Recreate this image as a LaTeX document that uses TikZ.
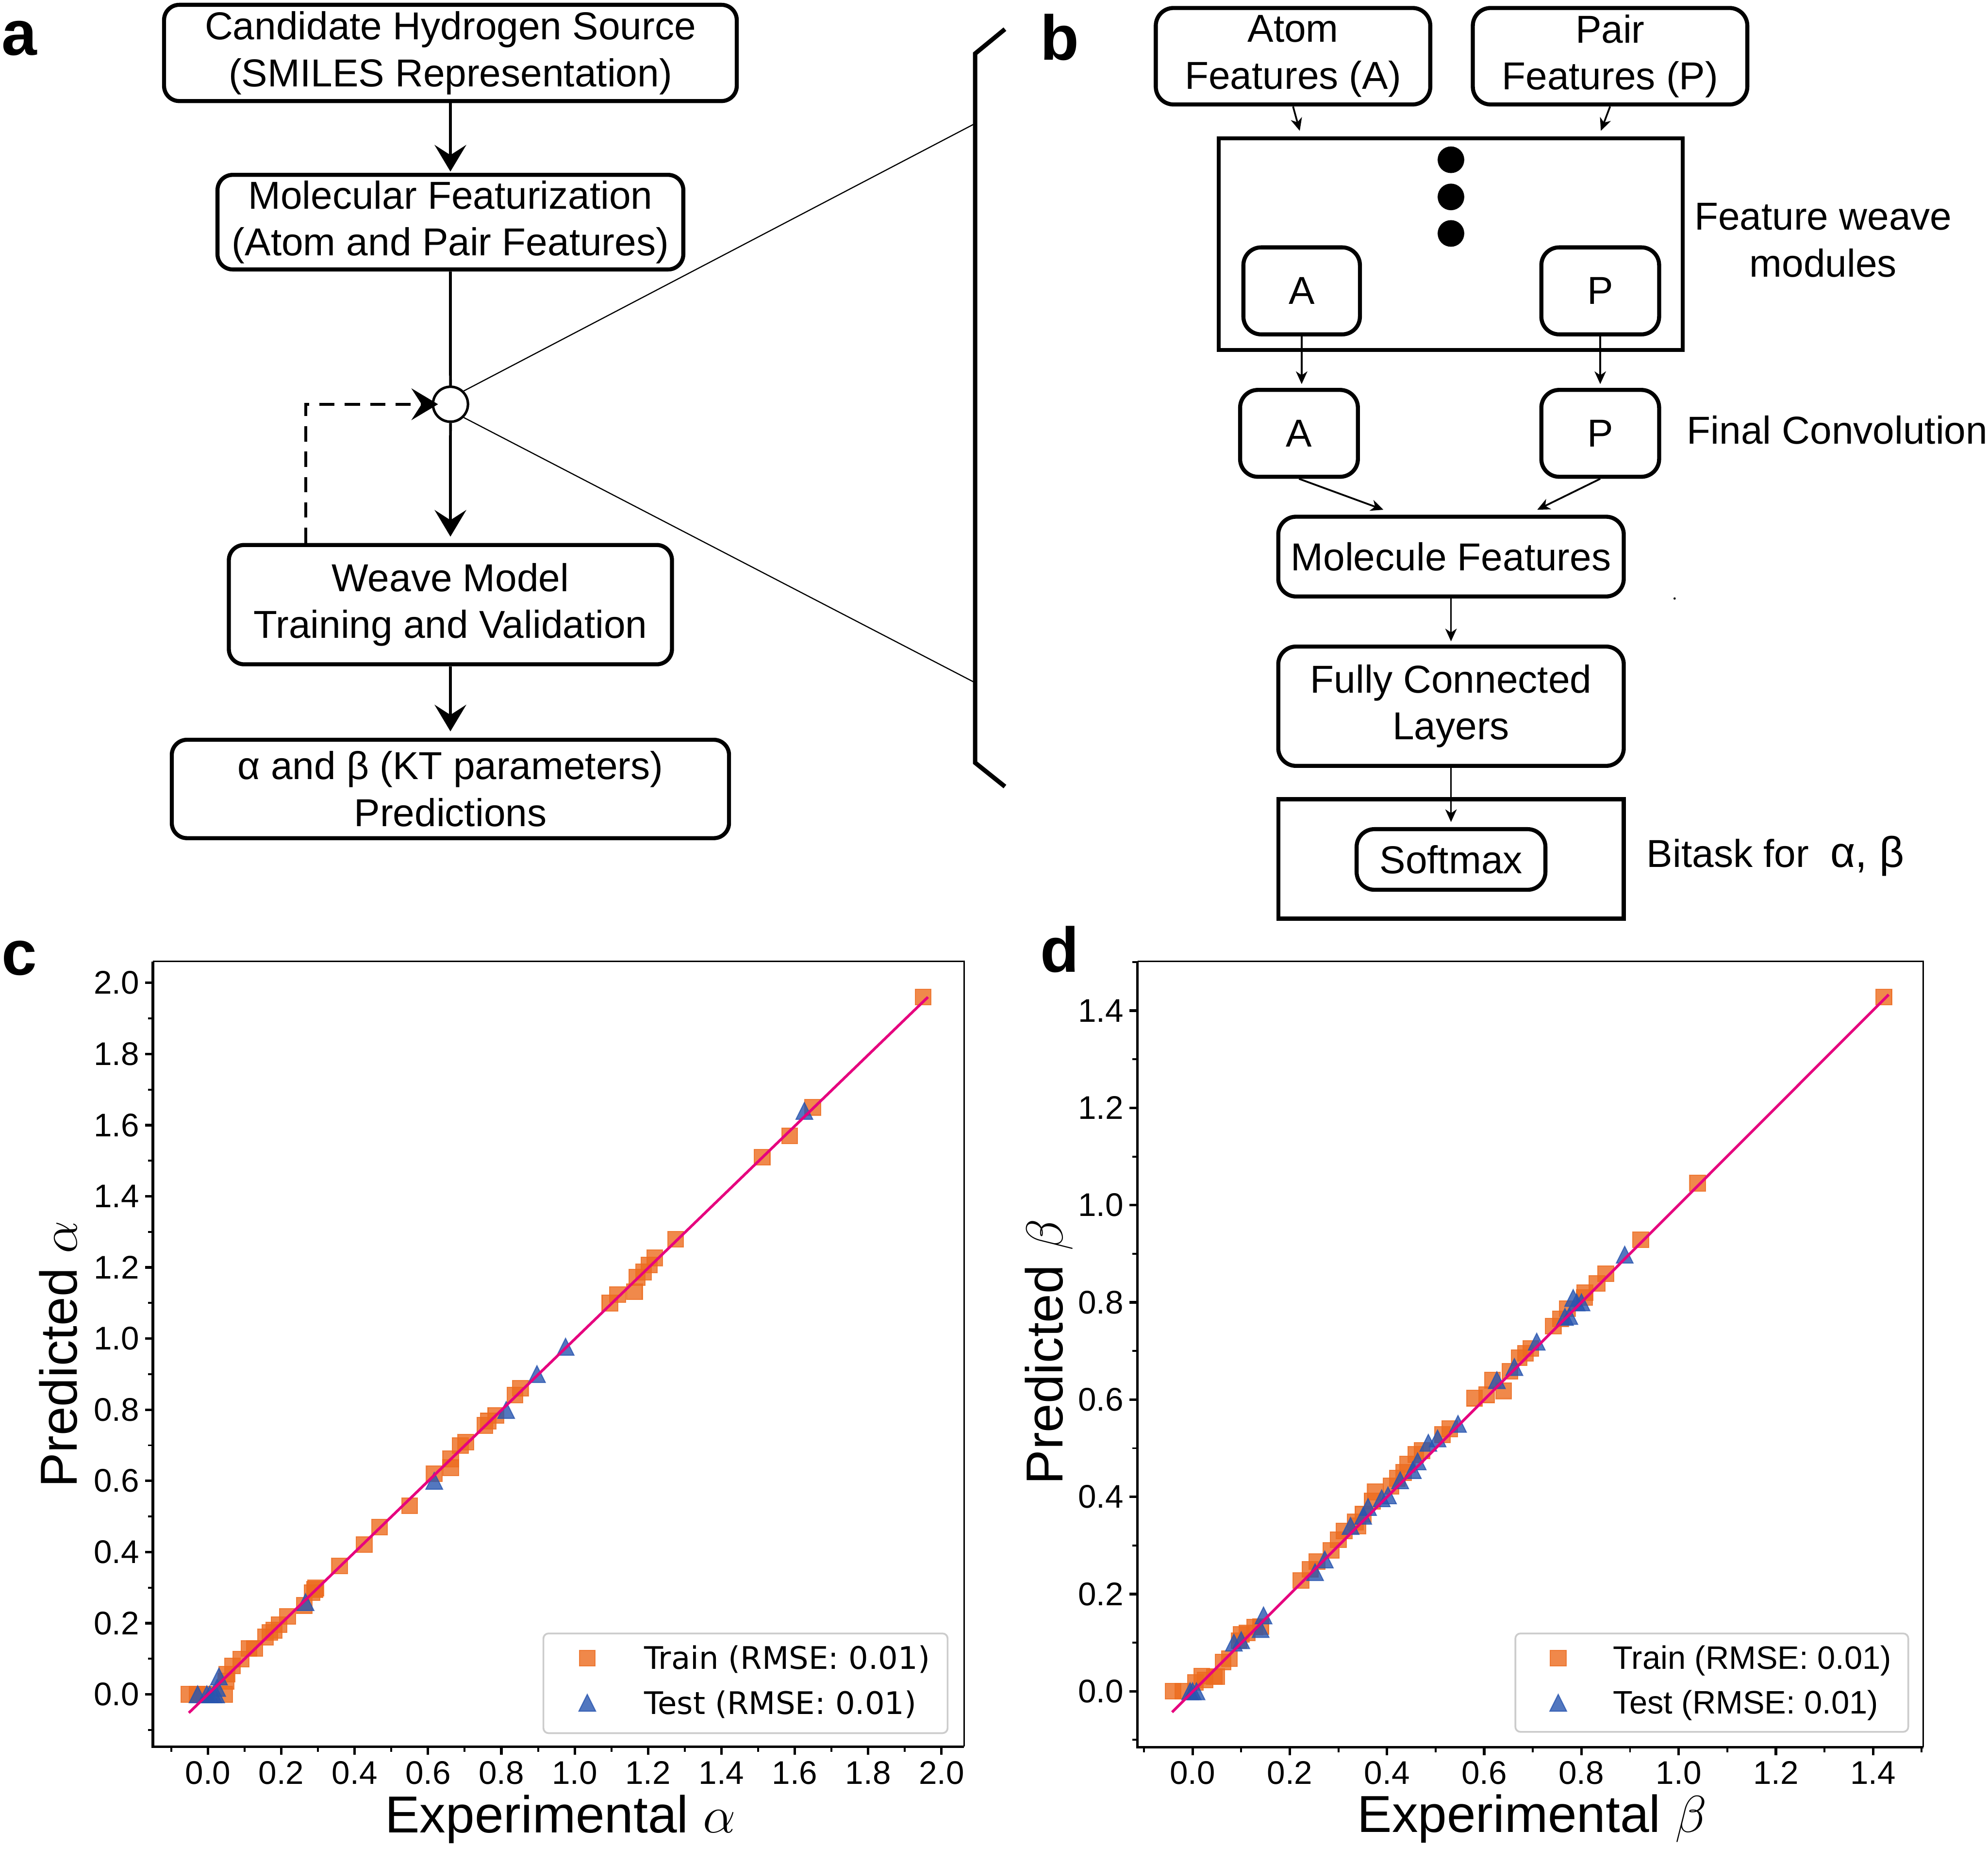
\RequirePackage{fix-cm}
\documentclass[tikz,border=0pt]{standalone}
\usepackage{fontspec}
\setmainfont{Liberation Sans}
\newfontfamily\djv{DejaVu Sans}
\usetikzlibrary{arrows.meta,calc}
\definecolor{orng}{RGB}{236,107,30}
\definecolor{blu}{RGB}{40,85,175}
\definecolor{regl}{RGB}{230,0,126}
\tikzset{
  txt/.style={inner sep=0pt, font=\fontsize{30.7}{37}\selectfont, align=center},
  rbox/.style={txt, draw, line width=3.2pt, rounded corners=12pt},
  sbox/.style={draw, line width=3.2pt, inner sep=0pt},
  flowarrow/.style={line width=2.2pt, -{Stealth[length=21pt,width=25pt,inset=8pt]}},
  flowline/.style={line width=2.2pt},
  dasharrow/.style={flowarrow, dash pattern=on 12pt off 8pt},
  zoomline/.style={line width=0.9pt},
  bracketline/.style={line width=3.5pt, line join=miter},
  thinarrow/.style={line width=1.4pt, -{Stealth[length=10pt,width=9pt,inset=3pt]}},
  panel/.style={inner sep=0pt, anchor=base west, font=\fontsize{50}{60}\selectfont\bfseries},
  sqm/.style={fill=orng, draw=orng, opacity=0.8, line width=0.8pt},
  trm/.style={fill=blu, draw=blu, opacity=0.8, line width=0.8pt},
  regline/.style={draw=regl, line width=2.1pt},
  spinethick/.style={line width=2pt},
  spinethin/.style={line width=1.2pt},
  majtick/.style={line width=2pt},
  mintick/.style={line width=1.5pt},
  ticklab/.style={inner sep=0pt, font=\fontsize{25.8}{30}\selectfont},
  axlab/.style={inner sep=0pt, font=\fontsize{41}{49}\selectfont},
  legbox/.style={draw=black!20, fill=white, fill opacity=0.8, line width=1.4pt, rounded corners=4pt},
  legtxtc/.style={inner sep=0pt, anchor=base west, font=\djv\fontsize{24.5}{29}\selectfont},
  legtxtd/.style={inner sep=0pt, anchor=base west, font=\fontsize{25.6}{30}\selectfont},
}
\begin{document}
\begin{tikzpicture}[x=1pt,y=-1pt]
\useasboundingbox (0,0) rectangle (1568,1469);

% ---------------- panel labels
\node[panel] (la) at (1,43.3) {a};
\node[panel] (lb) at (820.5,47.2) {b};
\node[panel] (lc) at (1,769) {c};
\node[panel] (ld) at (820.5,766.5) {d};

% ---------------- panel a
\node[rbox, minimum width=451.7pt, minimum height=75.9pt] (src) at (355.25,41.75) {Candidate Hydrogen Source\\(SMILES Representation)};
\node[rbox, minimum width=367.4pt, minimum height=74.6pt] (feat) at (355.25,175.2) {Molecular Featurization\\(Atom and Pair Features)};
\node[draw, circle, line width=2pt, fill=white, minimum size=27.6pt, inner sep=0pt] (hub) at (355.3,318.8) {};
\node[rbox, minimum width=349.5pt, minimum height=94.1pt] (wm) at (355.25,476.85) {Weave Model\\Training and Validation};
\node[rbox, minimum width=439.5pt, minimum height=77.6pt] (pred) at (355.25,622.2) {α and β (KT parameters)\\Predictions};

\draw[flowarrow, shorten >=1pt] (src) -- (feat);
\draw[flowline] (feat) -- (hub);
\draw[flowarrow, shorten >=5pt] (hub) -- (wm);
\draw[flowarrow, shorten >=5pt] (wm) -- (pred);
\coordinate (dstart) at (241.3,428.2);
\draw[dasharrow, shorten >=-5pt] (dstart) |- (hub);

\coordinate (zt) at (769.3,97.3);
\coordinate (zb) at (769.3,538.5);
\draw[zoomline] (hub.45) -- (zt);
\draw[zoomline] (hub.-45) -- (zb);
\draw[bracketline] (792.6,23) -- (769.1,42.3) -- (769.1,601.5) -- (792.6,620.3);

% ---------------- panel b
\node[rbox, rounded corners=14pt, minimum width=216.5pt, minimum height=76.1pt] (atomf) at (1019.85,44.35) {Atom\\Features (A)};
\node[rbox, rounded corners=14pt, minimum width=216.5pt, minimum height=76.1pt] (pairf) at (1269.9,44.35) {Pair\\Features (P)};
\node[sbox, minimum width=365.9pt, minimum height=166.7pt] (weave) at (1144.15,192.55) {};
\fill (1144.4,126) circle (10.5pt);
\fill (1144.4,155.3) circle (10.5pt);
\fill (1144.4,184.1) circle (10.5pt);
\node[rbox, rounded corners=14pt, minimum width=91.9pt, minimum height=68.6pt] (ia) at (1026.65,229.4) {A};
\node[rbox, rounded corners=14pt, minimum width=92.9pt, minimum height=68.6pt] (ip) at (1262.15,229.4) {P};
\node[rbox, rounded corners=14pt, minimum width=92.9pt, minimum height=68.5pt] (fa) at (1024.55,341.75) {A};
\node[rbox, rounded corners=14pt, minimum width=92.9pt, minimum height=68.5pt] (fp) at (1262.15,341.75) {P};
\node[rbox, rounded corners=14pt, minimum width=272.5pt, minimum height=62.9pt] (mol) at (1144.45,438.95) {Molecule Features};
\node[rbox, rounded corners=14pt, minimum width=272.5pt, minimum height=94.1pt] (fc) at (1144.45,556.95) {Fully Connected\\Layers};
\node[sbox, minimum width=272.5pt, minimum height=94.1pt] (bit) at (1144.45,677.35) {};
\node[rbox, rounded corners=14pt, minimum width=148.9pt, minimum height=47.8pt] (soft) at (1144.45,677.8) {Softmax};

\node[txt] (fwl) at (1438,189.35) {Feature weave\\modules};
\node[txt, anchor=west] (fcl) at (1330.3,339) {Final Convolution};
\node[txt, anchor=west] (btl) at (1298.6,675) {Bitask for\ \ {\fontsize{34}{40}\selectfont α, β}};

\draw[thinarrow] (atomf.south) -- ($(weave.north)+(-119,-4.4)$);
\draw[thinarrow] (pairf.south) -- ($(weave.north)+(118.5,-4.4)$);
\draw[thinarrow, shorten >=3pt] (ia.south) -- (ia.south |- fa.north);
\draw[thinarrow, shorten >=3pt] (ip) -- (fp);
\draw[thinarrow] (fa.south) -- ($(mol.north)+(-53.3,-3.9)$);
\draw[thinarrow] (fp.south) -- ($(mol.north)+(68,-3.9)$);
\draw[thinarrow, shorten >=2.5pt] (mol) -- (fc);
\draw[thinarrow, shorten >=4pt] (fc) -- (soft);
\fill (1320.8,472) circle (0.9pt);

% ---------------- panel c
\begin{scope}[shift={(164,1336.2)}, x=289.3pt, y=280.55pt]
  \foreach \a/\b in {1.95/1.96, 1.649/1.650, 1.586/1.570, 1.511/1.510, 1.275/1.279, 1.218/1.227, 1.203/1.207, 1.188/1.187, 1.170/1.172, 1.163/1.132, 1.117/1.124, 1.096/1.100, 0.852/0.860, 0.837/0.841, 0.785/0.784, 0.764/0.768, 0.755/0.756, 0.703/0.709, 0.688/0.699, 0.662/0.662, 0.662/0.637, 0.617/0.620, 0.550/0.530, 0.468/0.470, 0.426/0.421, 0.359/0.361, 0.294/0.299, 0.291/0.295, 0.284/0.286, 0.263/0.250, 0.217/0.219, 0.194/0.196, 0.180/0.180, 0.169/0.174, 0.157/0.161, 0.127/0.129, 0.112/0.129, 0.090/0.099, 0.067/0.080, 0.052/0.057, 0.049/0.037, 0.046/0.0, -0.052/0, -0.030/0, -0.010/0}
    \path[sqm] (\a,\b) ++(-6.2pt,-6.2pt) rectangle ++(12.4pt,12.4pt);
  \foreach \a/\b in {1.626/1.640, 0.975/0.977, 0.897/0.900, 0.813/0.799, 0.617/0.600, 0.266/0.259, 0.030/0.050, 0.025/0.018, 0.022/0, 0.015/0, 0.005/0, -0.003/0, -0.028/0}
    \path[trm] (\a,\b) ++(0pt,6.6pt) -- ++(6.6pt,-13.2pt) -- ++(-13.2pt,0pt) -- cycle;
  \draw[regline] (-0.052,-0.052) -- (1.963,1.96);
  \foreach \v/\t in {0/0.0,0.2/0.2,0.4/0.4,0.6/0.6,0.8/0.8,1.0/1.0,1.2/1.2,1.4/1.4,1.6/1.6,1.8/1.8,2.0/2.0} {
    \draw[majtick] (-0.150,\v) -- ++(-6.3pt,0pt);
    \node[ticklab, anchor=east, xshift=-10.5pt] at (-0.150,\v) {\t};
    \draw[majtick] (\v,-0.147) -- ++(0pt,-6.3pt);
    \node[ticklab, anchor=base, yshift=-29.4pt] at (\v,-0.147) {\t};
  }
  \foreach \v in {-0.1,0.1,0.3,0.5,0.7,0.9,1.1,1.3,1.5,1.7,1.9} {
    \draw[mintick] (-0.150,\v) -- ++(-4pt,0pt);
    \draw[mintick] (\v,-0.147) -- ++(0pt,-4pt);
  }
\end{scope}
\draw[spinethin] (120.6,758.2) -- (760.4,758.2) -- (760.4,1377.4);
\draw[spinethick] (120.6,758.2) -- (120.6,1377.4) -- (760.4,1377.4);
\draw[legbox] (428.6,1288.2) rectangle (747.4,1366.8);
\path[sqm] (463.2,1307.7) ++(-6.2pt,-6.2pt) rectangle ++(12.4pt,12.4pt);
\path[trm] (463.2,1342.9) ++(0pt,6.6pt) -- ++(6.6pt,-13.2pt) -- ++(-13.2pt,0pt) -- cycle;
\node[legtxtc] (lc1) at (507.8,1316.4) {Train (RMSE: 0.01)};
\node[legtxtc] (lc2) at (507.8,1351.9) {Test (RMSE: 0.01)};
\node[axlab, anchor=base] (xlc) at (442,1445.4) {Experimental $\alpha$};
\node[axlab, anchor=base, rotate=90] (ylc) at (60.5,1068) {Predicted $\alpha$};

% ---------------- panel d
\begin{scope}[shift={(940.6,1333.8)}, x=383.4pt, y=383.4pt]
  \foreach \a/\b in {1.422/1.428, 1.039/1.045, 0.922/0.929, 0.850/0.859, 0.832/0.839, 0.807/0.820, 0.806/0.810, 0.771/0.787, 0.757/0.766, 0.742/0.751, 0.696/0.705, 0.685/0.695, 0.672/0.686, 0.653/0.658, 0.617/0.640, 0.640/0.618, 0.605/0.610, 0.580/0.603, 0.529/0.540, 0.514/0.528, 0.472/0.495, 0.459/0.487, 0.442/0.467, 0.434/0.450, 0.421/0.438, 0.408/0.422, 0.376/0.410, 0.370/0.391, 0.351/0.364, 0.335/0.348, 0.340/0.340, 0.312/0.330, 0.300/0.312, 0.285/0.290, 0.256/0.267, 0.242/0.251, 0.223/0.228, 0.140/0.133, 0.128/0.132, 0.112/0.120, 0.100/0.117, 0.096/0.104, 0.076/0.067, 0.063/0.060, 0.050/0.030, 0.045/0.030, 0.026/0.023, 0.019/0.031, 0.006/0.018, -0.040/0, -0.020/0}
    \path[sqm] (\a,\b) ++(-6.2pt,-6.2pt) rectangle ++(12.4pt,12.4pt);
  \foreach \a/\b in {0.889/0.898, 0.783/0.809, 0.790/0.800, 0.800/0.800, 0.766/0.770, 0.775/0.772, 0.708/0.719, 0.662/0.667, 0.626/0.640, 0.546/0.550, 0.504/0.520, 0.485/0.511, 0.463/0.473, 0.453/0.455, 0.427/0.434, 0.402/0.403, 0.389/0.397, 0.361/0.379, 0.351/0.361, 0.325/0.340, 0.272/0.271, 0.252/0.245, 0.146/0.156, 0.140/0.128, 0.100/0.105, 0.085/0.100, -0.005/0, 0.008/0, 0.0/0.0}
    \path[trm] (\a,\b) ++(0pt,6.6pt) -- ++(6.6pt,-13.2pt) -- ++(-13.2pt,0pt) -- cycle;
  \draw[regline] (-0.042,-0.043) -- (1.432,1.433);
  \foreach \v/\t in {0/0.0,0.2/0.2,0.4/0.4,0.6/0.6,0.8/0.8,1.0/1.0,1.2/1.2,1.4/1.4} {
    \draw[majtick] (-0.1132,\v) -- ++(-6.3pt,0pt);
    \node[ticklab, anchor=east, xshift=-10.8pt] at (-0.1132,\v) {\t};
    \draw[majtick] (\v,-0.1148) -- ++(0pt,-6.3pt);
    \node[ticklab, anchor=base, yshift=-29.1pt] at (\v,-0.1148) {\t};
  }
  \foreach \v in {-0.1,0.1,0.3,0.5,0.7,0.9,1.1,1.3,1.5} {
    \draw[mintick] (-0.1132,\v) -- ++(-4pt,0pt);
    \draw[mintick] (\v,-0.1148) -- ++(0pt,-4pt);
  }
\end{scope}
\draw[spinethin] (897.2,758.2) -- (1517,758.2) -- (1517,1377.8);
\draw[spinethick] (897.2,758.2) -- (897.2,1377.8) -- (1517,1377.8);
\draw[legbox] (1195.2,1288.2) rectangle (1505.1,1365.8);
\path[sqm] (1229,1307.7) ++(-6.2pt,-6.2pt) rectangle ++(12.4pt,12.4pt);
\path[trm] (1229,1342.9) ++(0pt,6.6pt) -- ++(6.6pt,-13.2pt) -- ++(-13.2pt,0pt) -- cycle;
\node[legtxtd] (ld1) at (1272.1,1316.4) {Train (RMSE: 0.01)};
\node[legtxtd] (ld2) at (1272.1,1351.4) {Test (RMSE: 0.01)};
\node[axlab, anchor=base] (xld) at (1208.4,1444.9) {Experimental $\beta$};
\node[axlab, anchor=base, rotate=90] (yld) at (838.2,1066) {Predicted $\beta$};
\end{tikzpicture}
\end{document}
